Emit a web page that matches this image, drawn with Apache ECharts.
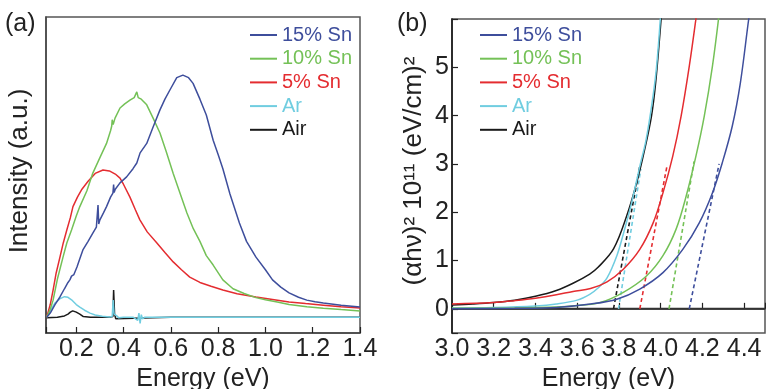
<!DOCTYPE html>
<html>
<head>
<meta charset="utf-8">
<script src="https://cdn.jsdelivr.net/npm/echarts@6/dist/echarts.min.js"></script>
<style>
html, body { margin: 0; padding: 0; background: #fff; }
#main { width: 766px; height: 389px; }
</style>
</head>
<body>
<div id="main"></div>
<script>
// (a) PL spectra: [energy eV, intensity a.u.]
var sn15PL = [[0.075,0.05],[0.09,0.063],[0.11,0.09],[0.131,0.114],[0.15,0.14],[0.165,0.16],[0.173,0.168],[0.18,0.18],[0.19,0.185],[0.203,0.209],[0.215,0.235],[0.228,0.263],[0.25,0.29],[0.27,0.316],[0.285,0.335],[0.29,0.34],[0.292,0.405],[0.295,0.345],[0.30,0.358],[0.315,0.38],[0.328,0.40],[0.345,0.43],[0.355,0.443],[0.358,0.47],[0.36,0.445],[0.365,0.455],[0.385,0.475],[0.413,0.494],[0.44,0.52],[0.456,0.538],[0.47,0.57],[0.498,0.60],[0.525,0.652],[0.554,0.706],[0.575,0.74],[0.596,0.769],[0.625,0.808],[0.651,0.816],[0.675,0.808],[0.694,0.79],[0.723,0.74],[0.75,0.69],[0.779,0.61],[0.80,0.565],[0.82,0.52],[0.85,0.44],[0.89,0.348],[0.92,0.29],[0.96,0.24],[1.0,0.2],[1.03,0.168],[1.065,0.145],[1.10,0.127],[1.14,0.113],[1.175,0.104],[1.21,0.099],[1.245,0.095],[1.32,0.088],[1.4,0.082]];
var sn10PL = [[0.075,0.05],[0.09,0.075],[0.102,0.104],[0.12,0.17],[0.144,0.24],[0.16,0.285],[0.18,0.326],[0.2,0.37],[0.215,0.40],[0.245,0.45],[0.27,0.506],[0.3,0.555],[0.328,0.60],[0.345,0.64],[0.35,0.655],[0.352,0.675],[0.356,0.66],[0.364,0.68],[0.385,0.712],[0.405,0.725],[0.427,0.737],[0.445,0.745],[0.456,0.763],[0.462,0.745],[0.475,0.74],[0.498,0.722],[0.525,0.68],[0.554,0.633],[0.58,0.575],[0.61,0.505],[0.64,0.44],[0.668,0.38],[0.695,0.33],[0.723,0.29],[0.75,0.245],[0.779,0.215],[0.82,0.168],[0.863,0.14],[0.91,0.125],[0.96,0.112],[1.0,0.105],[1.05,0.098],[1.10,0.09],[1.175,0.083],[1.245,0.078],[1.32,0.074],[1.4,0.07]];
var sn5PL = [[0.075,0.05],[0.09,0.09],[0.102,0.136],[0.115,0.19],[0.131,0.24],[0.145,0.285],[0.16,0.326],[0.175,0.365],[0.186,0.40],[0.205,0.43],[0.224,0.455],[0.25,0.48],[0.28,0.505],[0.313,0.516],[0.34,0.513],[0.365,0.503],[0.385,0.49],[0.40,0.47],[0.427,0.43],[0.45,0.39],[0.469,0.358],[0.50,0.32],[0.541,0.285],[0.575,0.255],[0.61,0.225],[0.645,0.2],[0.68,0.177],[0.723,0.16],[0.77,0.148],[0.82,0.136],[0.88,0.124],[0.96,0.114],[1.03,0.106],[1.10,0.098],[1.17,0.093],[1.245,0.088],[1.32,0.083],[1.4,0.079]];
var arPL = [[0.075,0.05],[0.09,0.07],[0.11,0.095],[0.13,0.108],[0.15,0.115],[0.165,0.113],[0.18,0.105],[0.2,0.09],[0.215,0.082],[0.235,0.072],[0.258,0.063],[0.28,0.057],[0.31,0.053],[0.34,0.051],[0.352,0.052],[0.356,0.104],[0.36,0.06],[0.37,0.055],[0.38,0.048],[0.4,0.05],[0.44,0.05],[0.46,0.04],[0.465,0.063],[0.47,0.03],[0.475,0.058],[0.48,0.045],[0.49,0.05],[0.7,0.05],[1.4,0.05]];
var airPL = [[0.075,0.048],[0.12,0.05],[0.15,0.054],[0.165,0.06],[0.175,0.066],[0.185,0.07],[0.193,0.073],[0.2,0.066],[0.207,0.07],[0.215,0.06],[0.23,0.052],[0.26,0.05],[0.34,0.05],[0.355,0.052],[0.358,0.136],[0.362,0.06],[0.367,0.045],[0.375,0.05],[0.6,0.05],[1.0,0.05],[1.4,0.05]];

// (b) Tauc plot: [energy eV, (ahv)^2 x 1e11]
var sn15Abs = [[3.0,0.0],[3.3,0.01],[3.5,0.03],[3.664,0.1],[3.79,0.2],[3.9,0.41],[4.011,0.75],[4.106,1.23],[4.185,1.78],[4.248,2.4],[4.295,3.02],[4.343,3.78],[4.382,4.68],[4.422,6.0],[4.43,6.2]];
var sn10Abs = [[3.0,0.01],[3.3,0.02],[3.5,0.04],[3.6,0.07],[3.711,0.13],[3.821,0.34],[3.932,0.68],[4.011,1.1],[4.074,1.65],[4.122,2.33],[4.169,3.16],[4.209,3.99],[4.248,5.02],[4.28,6.1]];
var sn5Abs = [[3.0,0.1],[3.2,0.13],[3.3,0.17],[3.4,0.22],[3.5,0.29],[3.58,0.36],[3.664,0.42],[3.743,0.56],[3.821,0.82],[3.9,1.23],[3.964,1.78],[4.011,2.4],[4.058,3.16],[4.098,3.99],[4.137,5.02],[4.172,6.1]];
var arAbs = [[3.0,0.02],[3.2,0.03],[3.4,0.06],[3.5,0.1],[3.6,0.18],[3.66,0.3],[3.7,0.43],[3.743,0.64],[3.79,1.1],[3.821,1.55],[3.861,2.2],[3.9,2.95],[3.93,3.5],[3.96,4.3],[3.98,5.0],[4.0,6.1]];
var airAbs = [[3.0,0.08],[3.1,0.1],[3.2,0.13],[3.3,0.18],[3.4,0.26],[3.5,0.38],[3.58,0.53],[3.66,0.72],[3.7,0.86],[3.774,1.24],[3.837,1.92],[3.885,2.61],[3.924,3.31],[3.956,3.99],[3.976,4.68],[4.003,6.05]];

// dashed linear fits (band gap intercepts)
var sn15Fit = [[4.137,0],[4.28,3.0]];
var sn10Fit = [[4.04,0],[4.16,3.05]];
var sn5Fit = [[3.90,0],[4.03,2.95]];
var arFit = [[3.798,0],[3.905,2.9]];
var airFit = [[3.774,0],[3.90,2.95]];

var names = ['15% Sn', '10% Sn', '5% Sn', 'Ar', 'Air'];
var colors = ['#3e4e9c', '#74c157', '#e42c30', '#70cde0', '#1a1a1a'];
var plData = [sn15PL, sn10PL, sn5PL, arPL, airPL];
var absData = [sn15Abs, sn10Abs, sn5Abs, arAbs, airAbs];
var fitData = [sn15Fit, sn10Fit, sn5Fit, arFit, airFit];

var font = 'Liberation Sans';

var chart = echarts.init(document.getElementById('main'));

function tickFmt(step, maxV) {
    return function (v) {
        var k = Math.round(v / step);
        if (Math.abs(v - k * step) > 1e-6 || v > maxV) return '';
        return step < 1 ? v.toFixed(1) : String(Math.round(v));
    };
}

var series = [];
names.forEach(function (n, i) {
    series.push({
        name: n, type: 'line', xAxisIndex: 0, yAxisIndex: 0,
        data: plData[i], showSymbol: false, symbol: 'none',
        lineStyle: { color: colors[i], width: 1.5 }, itemStyle: { color: colors[i] },
        z: 10 - i
    });
});
names.forEach(function (n, i) {
    series.push({
        name: n, type: 'line', xAxisIndex: 1, yAxisIndex: 1,
        data: absData[i], showSymbol: false, symbol: 'none', smooth: 0.35,
        lineStyle: { color: colors[i], width: 1.5 }, itemStyle: { color: colors[i] },
        z: 10 - i
    });
    series.push({
        name: n + ' fit', type: 'line', xAxisIndex: 1, yAxisIndex: 1,
        data: fitData[i], showSymbol: false, symbol: 'none',
        lineStyle: { color: colors[i], width: 1.6, type: [4, 3] },
        z: 5
    });
});
// zero line of panel (b)
series.push({
    name: 'zero', type: 'line', xAxisIndex: 1, yAxisIndex: 1,
    data: [[3.0, 0], [4.5, 0]], showSymbol: false, symbol: 'none',
    lineStyle: { color: '#333', width: 2 }, z: 3
});

function legendFor(left) {
    return {
        orient: 'vertical', left: left, top: 25, padding: 0,
        itemWidth: 27, itemHeight: 2, itemGap: 3.7, icon: 'rect',
        selectedMode: false,
        textStyle: { fontFamily: font, fontSize: 20, padding: [0, 0, 0, 0] },
        data: names.map(function (n, i) {
            return { name: n, textStyle: { color: colors[i] } };
        })
    };
}

var axisCommon = {
    axisLine: { show: true, lineStyle: { color: '#444', width: 1.5 } },
    axisTick: { show: true, inside: true, length: 6, lineStyle: { color: '#222', width: 1.2 } },
    splitLine: { show: false }
};

var option = {
    animation: false,
    backgroundColor: '#fff',
    textStyle: { fontFamily: font },
    grid: [
        { left: 46, top: 17, width: 314, height: 316, show: true, borderColor: '#555', borderWidth: 1.5, outerBoundsMode: 'none', containLabel: false },
        { left: 452, top: 19, width: 313, height: 314, show: true, borderColor: '#555', borderWidth: 1.5, outerBoundsMode: 'none', containLabel: false }
    ],
    legend: [legendFor(250), legendFor(480)],
    xAxis: [
        Object.assign({}, axisCommon, {
            type: 'value', gridIndex: 0, min: 0.072, max: 1.4, splitNumber: 7,
            axisLabel: { fontFamily: font, fontSize: 25, color: '#222', margin: 4, formatter: tickFmt(0.2, 1.41) },
            name: 'Energy (eV)', nameLocation: 'middle', nameGap: 33,
            nameTextStyle: { fontFamily: font, fontSize: 25, color: '#222' }
        }),
        Object.assign({}, axisCommon, {
            type: 'value', gridIndex: 1, min: 3.0, max: 4.5, interval: 0.2,
            axisLabel: { fontFamily: font, fontSize: 25, color: '#222', margin: 4, formatter: tickFmt(0.2, 4.41) },
            name: 'Energy (eV)', nameLocation: 'middle', nameGap: 33,
            nameTextStyle: { fontFamily: font, fontSize: 25, color: '#222' }
        })
    ],
    yAxis: [
        {
            type: 'value', gridIndex: 0, min: 0, max: 1,
            axisLine: { show: true, lineStyle: { color: '#444', width: 1.5 } },
            axisTick: { show: false }, axisLabel: { show: false }, splitLine: { show: false },
            name: 'Intensity (a.u.)', nameLocation: 'middle', nameGap: 13,
            nameTextStyle: { fontFamily: font, fontSize: 26, color: '#222', padding: [0, 0, 0, 8] }
        },
        Object.assign({}, axisCommon, {
            type: 'value', gridIndex: 1, min: -0.5, max: 6, splitNumber: 6,
            axisLine: { show: true, lineStyle: { color: '#111', width: 1.5 } },
            axisLabel: { fontFamily: font, fontSize: 25, color: '#222', margin: 3, formatter: tickFmt(1, 5.5) },
            name: '(\u03b1h\u03bd)\u00b2 10\u00b9\u00b9 (eV/cm)\u00b2', nameLocation: 'middle', nameGap: 25,
            nameTextStyle: { fontFamily: font, fontSize: 26, color: '#222', padding: [0, 0, 0, 10] }
        })
    ],
    graphic: [
        { type: 'text', left: 5, top: 12, style: { text: '(a)', fontFamily: font, fontSize: 25, fill: '#222' } },
        { type: 'text', left: 397, top: 12, style: { text: '(b)', fontFamily: font, fontSize: 25, fill: '#222' } }
    ],
    series: series
};

chart.setOption(option);
</script>
</body>
</html>
